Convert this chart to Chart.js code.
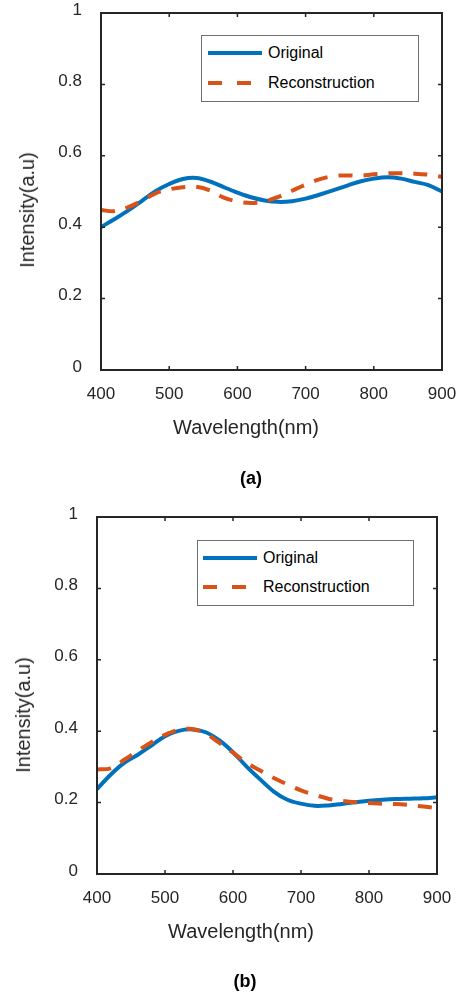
<!DOCTYPE html>
<html>
<head>
<meta charset="utf-8">
<script src="https://cdn.jsdelivr.net/npm/chart.js@4.4.0/dist/chart.umd.min.js"></script>
<style>
body{margin:0;background:#fff;font-family:"Liberation Sans",Arial,sans-serif;}
#page{position:relative;width:461px;height:997px;overflow:hidden;}
canvas{position:absolute;left:0;}
.lbl{position:absolute;transform:translate(-50%,-50%);white-space:nowrap;color:#262626;font-size:20px;line-height:20px;}
.ylbl{transform:translate(-50%,-50%) rotate(-90deg);}
.tag{font-weight:bold;font-size:18px;line-height:18px;color:#000;}
.legend{position:absolute;box-sizing:border-box;border:1px solid #6f6f6f;background:#fff;}
.legend svg{position:absolute;overflow:visible;}
.legend span{position:absolute;font-size:16px;line-height:16px;transform:translateY(-50%);color:#000;white-space:nowrap;}
</style>
</head>
<body>
<div id="page">
  <canvas id="chartA" width="461" height="500" style="top:0"></canvas>
  <canvas id="chartB" width="461" height="497" style="top:500px"></canvas>

  <div class="lbl ylbl" style="left:27px;top:210px">Intensity(a.u)</div>
  <div class="lbl" style="left:246px;top:427px">Wavelength(nm)</div>
  <div class="lbl tag" style="left:251px;top:478px">(a)</div>

  <div class="lbl ylbl" style="left:23px;top:715px">Intensity(a.u)</div>
  <div class="lbl" style="left:241px;top:931px">Wavelength(nm)</div>
  <div class="lbl tag" style="left:245px;top:981px">(b)</div>

  <div class="legend" style="left:201px;top:35px;width:218px;height:67px">
    <svg style="left:6px;top:17px" width="54" height="1"><line x1="0" y1="0" x2="54" y2="0" stroke="#0072BD" stroke-width="4"/></svg>
    <span style="left:66px;top:17px">Original</span>
    <svg style="left:6px;top:47px" width="54" height="1"><line x1="0" y1="0" x2="54" y2="0" stroke="#D95319" stroke-width="4" stroke-dasharray="14 15"/></svg>
    <span style="left:66px;top:47px">Reconstruction</span>
  </div>
  <div class="legend" style="left:197px;top:540px;width:217px;height:66px">
    <svg style="left:5px;top:17px" width="54" height="1"><line x1="0" y1="0" x2="54" y2="0" stroke="#0072BD" stroke-width="4"/></svg>
    <span style="left:65px;top:17px">Original</span>
    <svg style="left:5px;top:46px" width="54" height="1"><line x1="0" y1="0" x2="54" y2="0" stroke="#D95319" stroke-width="4" stroke-dasharray="14 15"/></svg>
    <span style="left:65px;top:46px">Reconstruction</span>
  </div>
</div>

<script>
const BLUE = '#0072BD';
const ORANGE = '#D95319';
const AXIS = '#262626';

const xTicks = [400, 500, 600, 700, 800, 900];
const yTicks = [0, 0.2, 0.4, 0.6, 0.8, 1];

// wavelength grid shared by all four spectra (nm)
const wavelength = [400, 420, 440, 460, 480, 500, 520, 540, 560, 580, 600, 620, 640,
                    660, 680, 700, 720, 740, 760, 780, 800, 820, 840, 860, 880, 900];

// panel (a)
const origA  = [0.400, 0.423, 0.447, 0.474, 0.501, 0.521, 0.535, 0.538, 0.528, 0.512, 0.497, 0.484, 0.475,
                0.471, 0.473, 0.480, 0.491, 0.503, 0.516, 0.528, 0.536, 0.540, 0.536, 0.527, 0.518, 0.500];
const reconA = [0.448, 0.445, 0.456, 0.474, 0.495, 0.506, 0.512, 0.513, 0.503, 0.483, 0.472, 0.468, 0.472,
                0.485, 0.502, 0.519, 0.534, 0.543, 0.545, 0.544, 0.548, 0.551, 0.551, 0.550, 0.547, 0.541];

// panel (b)
const origB  = [0.238, 0.278, 0.311, 0.334, 0.360, 0.386, 0.401, 0.405, 0.397, 0.374, 0.341, 0.301, 0.265,
                0.231, 0.208, 0.197, 0.191, 0.192, 0.196, 0.201, 0.205, 0.208, 0.210, 0.211, 0.212, 0.215];
const reconB = [0.293, 0.296, 0.320, 0.345, 0.369, 0.390, 0.404, 0.406, 0.393, 0.367, 0.340, 0.311, 0.290,
                0.269, 0.251, 0.234, 0.222, 0.211, 0.205, 0.201, 0.199, 0.197, 0.196, 0.193, 0.189, 0.185];

const FONT = '"Liberation Sans", Arial, sans-serif';

// box around the plot area with inward ticks on all four sides
const frame = {
    id: 'frame',
    afterDatasetsDraw(chart) {
        const {ctx, chartArea: a, scales: {x, y}} = chart;
        ctx.save();
        ctx.strokeStyle = AXIS;
        ctx.lineWidth = 1.5;
        ctx.beginPath();
        xTicks.forEach(v => {
            const px = x.getPixelForValue(v);
            ctx.moveTo(px, a.bottom); ctx.lineTo(px, a.bottom - 4);
            ctx.moveTo(px, a.top); ctx.lineTo(px, a.top + 4);
        });
        yTicks.forEach(v => {
            const py = y.getPixelForValue(v);
            ctx.moveTo(a.left, py); ctx.lineTo(a.left + 4, py);
            ctx.moveTo(a.right, py); ctx.lineTo(a.right - 4, py);
        });
        ctx.stroke();
        ctx.lineWidth = 2;
        ctx.strokeRect(a.left, a.top, a.right - a.left, a.bottom - a.top);
        ctx.restore();
    }
};

function pts(xs, ys) {
    return xs.map((v, i) => ({x: v, y: ys[i]}));
}

// labels hanging over the plot edges shouldn't push the plot area inwards
function noOverhang(s) {
    s.paddingLeft = 0;
    s.paddingRight = 0;
    s.paddingTop = 0;
    s.paddingBottom = 0;
}

function makePanel(id, orig, recon, box) {
    const canvas = document.getElementById(id);
    return new Chart(canvas, {
        type: 'line',
        data: {
            datasets: [
                {
                    label: 'Original',
                    data: pts(wavelength, orig),
                    borderColor: BLUE,
                    borderWidth: 4,
                    pointRadius: 0,
                    tension: 0.35,
                    fill: false,
                    order: 2
                },
                {
                    label: 'Reconstruction',
                    data: pts(wavelength, recon),
                    borderColor: ORANGE,
                    borderWidth: 4,
                    borderDash: [14, 11],
                    pointRadius: 0,
                    tension: 0.35,
                    fill: false,
                    order: 1
                }
            ]
        },
        options: {
            responsive: false,
            animation: false,
            layout: {padding: {left: 0, top: box.top, right: canvas.width - box.right, bottom: 0}},
            plugins: {
                legend: {display: false},
                tooltip: {enabled: false}
            },
            scales: {
                x: {
                    type: 'linear',
                    min: 400,
                    max: 900,
                    afterBuildTicks: s => { s.ticks = xTicks.map(v => ({value: v})); },
                    afterFit: s => { s.height = canvas.height - box.bottom; noOverhang(s); },
                    grid: {display: false, drawTicks: false},
                    border: {display: false},
                    ticks: {
                        padding: 14,
                        maxRotation: 0,
                        autoSkip: false,
                        color: AXIS,
                        font: {family: FONT, size: 17}
                    }
                },
                y: {
                    min: 0,
                    max: 1,
                    afterBuildTicks: s => { s.ticks = yTicks.map(v => ({value: v})); },
                    afterFit: s => { s.width = box.left; noOverhang(s); },
                    grid: {display: false, drawTicks: false},
                    border: {display: false},
                    ticks: {
                        padding: 19,
                        labelOffset: -3,
                        color: AXIS,
                        font: {family: FONT, size: 17},
                        callback: v => String(v)
                    }
                }
            }
        },
        plugins: [frame]
    });
}

makePanel('chartA', origA, reconA, {left: 101, top: 13, right: 442, bottom: 370});
makePanel('chartB', origB, reconB, {left: 97, top: 17, right: 437, bottom: 374});
</script>
</body>
</html>
